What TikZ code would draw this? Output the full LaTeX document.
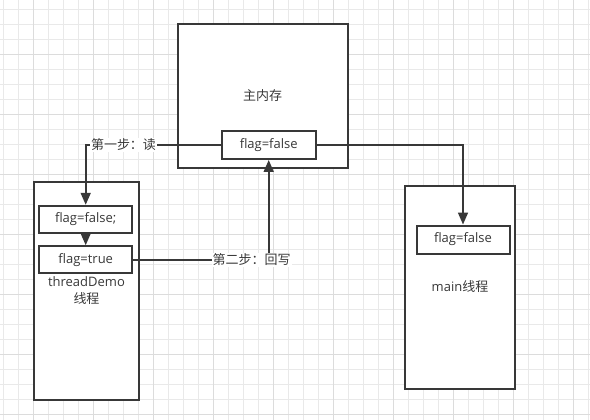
\documentclass[tikz,border=0pt]{standalone}
\usepackage{fontspec}
\setmainfont{Open Sans}
\newfontfamily\cjk{Noto Sans CJK SC}
\usetikzlibrary{arrows.meta}
\definecolor{ink}{HTML}{383838}
\definecolor{gridminor}{HTML}{E9E9E9}
\definecolor{gridmajor}{HTML}{DCDCDC}

\begin{document}
\begin{tikzpicture}[x=1pt,y=-1pt,
    box/.style={draw=ink,line width=2pt,fill=white,inner sep=0pt,text=ink,align=center,font=\fontsize{13}{17}\selectfont},
    flagbox/.style={box,minimum width=93pt,minimum height=27pt},
    conn/.style={draw=ink,line width=1.7pt,-{Triangle[length=12pt,width=10pt]}},
    steplabel/.style={fill=white,text=ink,inner sep=1pt,font=\fontsize{13}{15}\selectfont\cjk}]

    \fill[white] (0,0) rectangle (590,420);
    \useasboundingbox (0,0) rectangle (590,420);

    % background grid
    \foreach \x in {3.3,18.3,...,590} \draw[gridminor,line width=1pt] (\x,0) -- (\x,420);
    \foreach \y in {9.3,24.3,...,420} \draw[gridminor,line width=1pt] (0,\y) -- (590,\y);
    \foreach \x in {33.3,93.3,...,590} \draw[gridmajor,line width=1pt] (\x,0) -- (\x,420);
    \foreach \y in {54.3,114.3,...,420} \draw[gridmajor,line width=1pt] (0,\y) -- (590,\y);

    % outer boxes
    \node[box,minimum width=170pt,minimum height=144pt] (mem) at (262.6,96) {\cjk 主内存};
    \node[box,minimum width=105pt,minimum height=218pt] (demo) at (86.5,291) {threadDemo\\{\cjk 线程}};
    \node[box,minimum width=110pt,minimum height=203pt] (mainth) at (460,287) {main{\cjk 线程}};

    % flag values
    \node[flagbox,minimum width=94pt,minimum height=28pt] (memflag) at (268.7,145) {flag=false};
    \node[flagbox] (demofalse) at (85.7,219.3) {flag=false;};
    \node[flagbox] (demotrue) at (85.7,259.7) {flag=true};
    \node[flagbox,minimum height=28pt] (mainflag) at (463,239.5) {flag=false};

    % connectors
    \draw[conn] (memflag.west) -- node[steplabel,pos=0.72] {第一步：读} (memflag.west -| demofalse.north) -- (demofalse.north);
    \draw[conn] (demofalse.south) -- (demotrue.north);
    \draw[conn] (demotrue.east) -- (demotrue.east -| memflag.south) -- (memflag.south);
    \node[steplabel] (back) at (251.5,260) {第二步：回写};
    \draw[conn] (memflag.east) -- (memflag.east -| mainflag.north) -- (mainflag.north);

\end{tikzpicture}
\end{document}
